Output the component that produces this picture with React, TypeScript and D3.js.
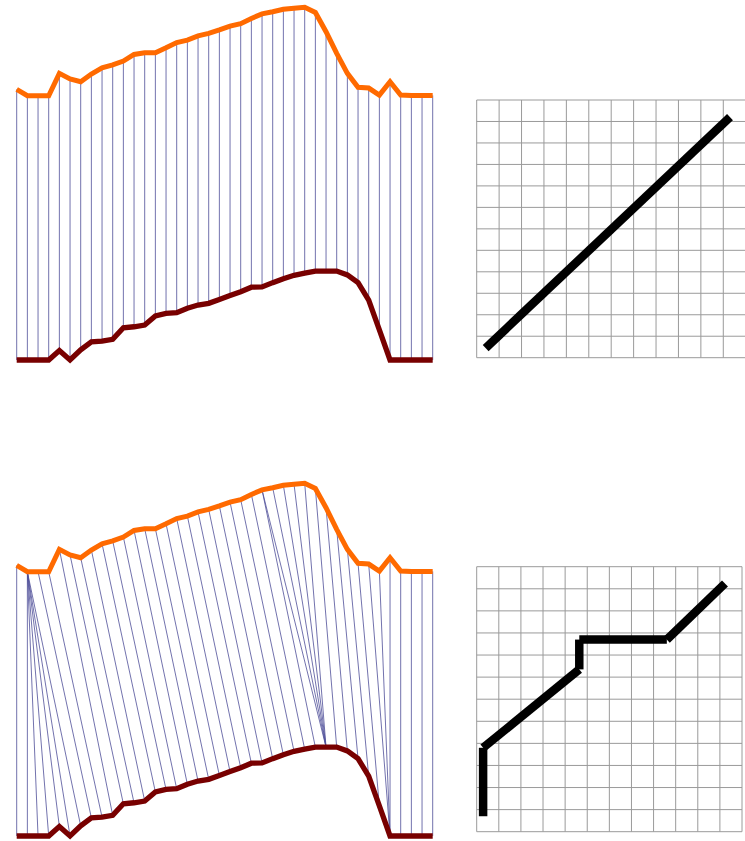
import React from 'react';
import * as d3 from 'd3';

// two series, 40 samples each (value units, baseline 0)
const orangeValues = [
  77.3, 75.5, 75.5, 75.5, 81.9, 80.3, 79.5, 81.7, 83.5, 84.3,
  85.4, 87.3, 87.8, 87.8, 89.2, 90.7, 91.4, 92.6, 93.3, 94.3,
  95.4, 96.1, 97.6, 98.9, 99.5, 100.2, 100.5, 100.8, 99.3, 93.8,
  87.6, 81.9, 77.9, 77.7, 75.7, 79.5, 75.7, 75.6, 75.6, 75.6
];
const redValues = [
  0, 0, 0, 0, 2.7, 0, 2.9, 5.2, 5.4, 5.9,
  9.2, 9.5, 10, 12.6, 13.3, 13.5, 14.8, 15.7, 16.2, 17.3,
  18.4, 19.5, 20.8, 20.9, 22.1, 23.2, 24.2, 24.8, 25.4, 25.4,
  25.4, 24.3, 22.1, 17.1, 8.6, 0, 0, 0, 0, 0
];

// matching pairs [orange index, red index]
const euclidPairs: [number, number][] = orangeValues.map((_, i) => [i, i]);
const dtwPairs: [number, number][] = [
  [0, 0],
  [1, 1], [1, 2], [1, 3], [1, 4], [1, 5], [1, 6],
  [2, 7], [3, 8], [4, 9], [5, 10], [6, 11], [7, 12], [8, 13], [9, 14], [10, 15],
  [11, 16], [12, 17], [13, 18], [14, 19], [15, 20], [16, 21], [17, 22], [18, 23],
  [19, 24], [20, 25], [21, 26], [22, 27],
  [23, 28], [23, 29], [24, 29], [25, 29], [26, 29], [27, 29],
  [28, 30], [29, 31], [30, 32], [31, 33], [32, 34],
  [33, 35], [34, 35], [35, 35],
  [36, 36], [37, 37], [38, 38], [39, 39]
];

// warping paths on the 12x12 grids (cell units, origin bottom-left)
const gridCells = 12;
const euclidPath: [number, number][] = [[0.4, 0.45], [11.3, 11.2]];
const dtwPath: [number, number][] = [
  [0.29, 0.7], [0.29, 3.8], [4.64, 7.35], [4.64, 8.7], [8.6, 8.7], [11.23, 11.24]
];

const W = 745;
const H = 841;

const x = d3.scaleLinear().domain([0, 39]).range([16.7, 432.7]);

interface PanelProps {
  baseY: number;
  pairs: [number, number][];
}

const SeriesPanel: React.FC<PanelProps> = ({ baseY, pairs }) => {
  const y = d3.scaleLinear().domain([0, 100]).range([baseY, baseY - 350]);
  const line = d3.line<number>().x((_, i) => x(i)).y(d => y(d));
  return (
    <g>
      {pairs.map(([a, b], k) => (
        <line
          key={k}
          x1={x(a)}
          y1={y(orangeValues[a])}
          x2={x(b)}
          y2={y(redValues[b])}
          stroke="#50509a"
          strokeOpacity={0.9}
          strokeWidth={0.9}
        />
      ))}
      <path d={line(orangeValues) || ''} fill="none" stroke="#ff6a00" strokeWidth={5} />
      <path d={line(redValues) || ''} fill="none" stroke="#780000" strokeWidth={5.3} />
    </g>
  );
};

interface GridProps {
  left: number;
  top: number;
  width: number;
  height: number;
  path: [number, number][];
}

const GridPanel: React.FC<GridProps> = ({ left, top, width, height, path }) => {
  const gx = d3.scaleLinear().domain([0, gridCells]).range([left, left + width]);
  const gy = d3.scaleLinear().domain([0, gridCells]).range([top + height, top]);
  const ticks = d3.range(gridCells + 1);
  return (
    <g>
      {ticks.map(t => (
        <line key={'v' + t} x1={gx(t)} x2={gx(t)} y1={gy(0)} y2={gy(gridCells)} stroke="#9a9a9a" strokeWidth={1} />
      ))}
      {ticks.map(t => (
        <line key={'h' + t} x1={gx(0)} x2={gx(gridCells)} y1={gy(t)} y2={gy(t)} stroke="#9a9a9a" strokeWidth={1} />
      ))}
      {path.slice(1).map((p, i) => (
        <line
          key={'p' + i}
          x1={gx(path[i][0])}
          y1={gy(path[i][1])}
          x2={gx(p[0])}
          y2={gy(p[1])}
          stroke="#000"
          strokeWidth={8.5}
        />
      ))}
    </g>
  );
};

export default function App() {
  return (
    <svg width={W} height={H} style={{ position: 'absolute', left: 0, top: 0, background: '#fff' }}>
      <SeriesPanel baseY={360} pairs={euclidPairs} />
      <SeriesPanel baseY={836} pairs={dtwPairs} />
      <GridPanel left={476.7} top={100} width={269} height={257.7} path={euclidPath} />
      <GridPanel left={476.7} top={566.7} width={265.3} height={265} path={dtwPath} />
    </svg>
  );
}
